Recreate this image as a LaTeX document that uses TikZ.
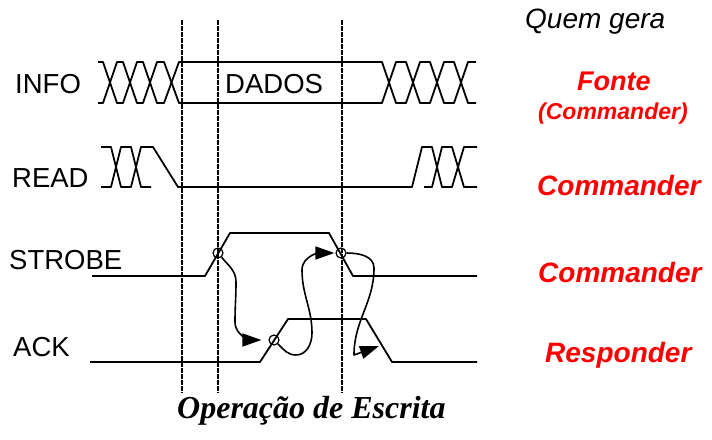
\documentclass[tikz,border=0pt]{standalone}
\usepackage{fontspec}
\setmainfont{Liberation Sans}
\newfontfamily\timesfont{Liberation Serif}
\usetikzlibrary{arrows.meta}

\begin{document}
\begin{tikzpicture}[x=1pt,y=1pt,
sinal/.style={line width=1.8pt,line join=round},
guia/.style={line width=1.4pt,dash pattern=on 5pt off 1pt},
rotulo/.style={anchor=base west,inner sep=0pt,font=\fontsize{27.5}{30}\selectfont},
fonte/.style={anchor=base west,inner sep=0pt,text=red,font=\fontsize{28}{30}\selectfont\bfseries\itshape},
evento/.style={circle,draw,line width=1.2pt,inner sep=0pt,minimum size=10pt},
causa/.style={line width=1.6pt,line join=round,-{Triangle[length=19pt,width=13pt]}}
]
\useasboundingbox (0,0) rectangle (712,-439);

%signal names
\node[rotulo] (info) at (15,-93) {INFO};
\node[rotulo] (read) at (12,-187) {READ};
\node[rotulo] (strobe) at (9,-269) {STROBE};
\node[rotulo] (ack) at (13,-356) {ACK};
\node[rotulo] (dados) at (225,-93) {DADOS};

%who drives each signal
\node[anchor=base west,inner sep=0pt,font=\fontsize{28}{30}\selectfont\itshape] (quem) at (525,-28) {Quem gera};
\node[fonte,font=\fontsize{27}{30}\selectfont\bfseries\itshape] (fonte) at (577,-90) {Fonte};
\node[fonte,font=\fontsize{23}{26}\selectfont\bfseries\itshape] (cmdinfo) at (538,-119) {(Commander)};
\node[fonte] (cmdread) at (537,-195) {Commander};
\node[fonte] (cmdstrobe) at (538,-282) {Commander};
\node[fonte] (resp) at (545,-362) {Responder};

%title
\node[anchor=base west,inner sep=0pt,font=\timesfont\bfseries\itshape\fontsize{32}{34}\selectfont] (titulo) at (177,-418) {Operação de Escrita};

%guide lines
\draw[guia] (182,-20) -- (182,-393);
\draw[guia] (218,-20) -- (218,-393);
\draw[guia] (342,-20) -- (342,-393);

%INFO
\draw[sinal] (98,-62) -- (103,-62) -- (117,-103) -- (123,-103) -- (137,-62) -- (143,-62) -- (157,-103) -- (164,-103) -- (179,-62) -- (382,-62) -- (396,-103) -- (406,-103) -- (420,-62) -- (430,-62) -- (444,-103) -- (454,-103) -- (468,-62) -- (476,-62);
\draw[sinal] (98,-103) -- (103,-103) -- (117,-62) -- (123,-62) -- (137,-103) -- (143,-103) -- (157,-62) -- (164,-62) -- (179,-103) -- (382,-103) -- (396,-62) -- (406,-62) -- (420,-103) -- (430,-103) -- (444,-62) -- (454,-62) -- (468,-103) -- (476,-103);

%READ
\draw[sinal] (101,-147) -- (111,-147) -- (121,-187) -- (131,-187) -- (141,-147) -- (153,-147) -- (178,-187) -- (412,-187) -- (422,-147) -- (432,-147) -- (442,-187) -- (452,-187) -- (464,-147) -- (477,-147);
\draw[sinal] (101,-187) -- (111,-187) -- (121,-147) -- (131,-147) -- (141,-187) -- (151,-187);
\draw[sinal] (424,-187) -- (432,-187) -- (442,-147) -- (452,-147) -- (464,-187) -- (477,-187);

%STROBE
\draw[sinal] (92,-276) -- (205,-276) -- (230,-233) -- (329,-233) -- (353,-276) -- (477,-276);

%ACK
\draw[sinal] (90,-362) -- (260,-362) -- (288,-319) -- (366,-319) -- (392,-362) -- (477,-362);

%events
\node[evento] (s1) at (218,-253) {};
\node[evento] (s2) at (341,-253) {};
\node[evento] (a1) at (274,-340) {};

%cause and effect
\coordinate (c1) at (236,-282);
\coordinate (c2) at (235,-322);
\draw[causa,shorten >=7pt] (s1) to[out=-50,in=90] (c1) to[out=-90,in=90] (c2) to[out=-90,in=180] (a1);

\coordinate (c3) at (296,-355);
\coordinate (c4) at (312,-333);
\coordinate (c5) at (302,-270);
\draw[causa,shorten >=1pt] (a1) to[out=-45,in=180] (c3) to[out=0,in=-90] (c4) to[out=90,in=-90] (c5) to[out=90,in=180] (s2);

\coordinate (c6) at (374,-268);
\coordinate (c7) at (354,-355);
\coordinate (fim) at (379,-346);
\draw[causa] (s2) to[out=0,in=90] (c6) to[out=-90,in=90] (c7) -- (fim);

\end{tikzpicture}
\end{document}
